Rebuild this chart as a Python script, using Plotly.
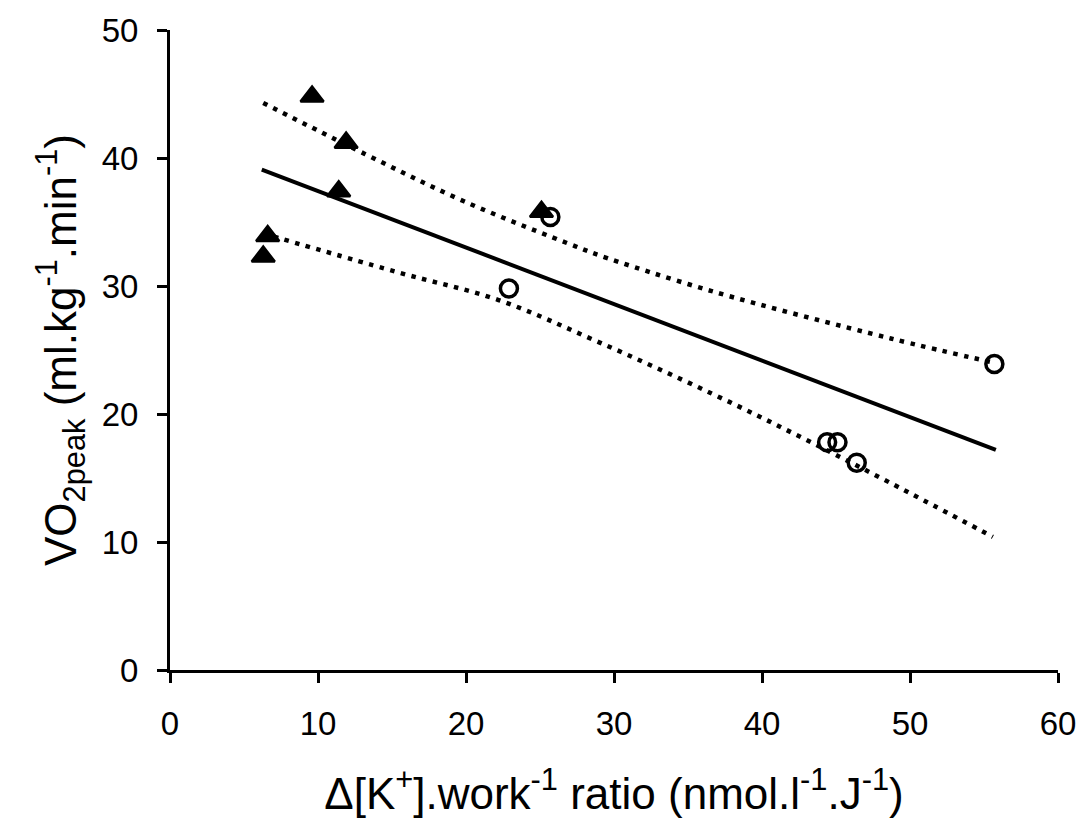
import plotly.graph_objects as go

# Group A (filled triangles)
tri_x = [9.6, 11.9, 11.4, 6.6, 6.3, 25.1]
tri_y = [44.8, 41.2, 37.4, 33.9, 32.3, 35.8]

# Group B (open circles)
circ_x = [25.7, 22.9, 44.4, 45.1, 46.4, 55.7]
circ_y = [35.4, 29.8, 17.8, 17.8, 16.2, 23.9]

# Regression line (end points)
reg_x = [6.2, 55.8]
reg_y = [39.1, 17.2]

# Confidence band (dotted)
upper_x = [6.3, 13.2, 19.9, 27.4, 29.0, 36.6, 48.7, 55.7]
upper_y = [44.3, 40.3, 36.6, 33.1, 32.4, 29.6, 25.9, 24.0]
lower_x = [6.3, 15.3, 22.2, 29.0, 36.6, 42.7, 48.7, 55.6]
lower_y = [34.1, 31.1, 28.9, 25.6, 21.6, 18.15, 14.6, 10.4]

x_ticks = [0, 10, 20, 30, 40, 50, 60]
y_ticks = [0, 10, 20, 30, 40, 50]

FONT = "Liberation Sans, Arial, sans-serif"
dot_style = "4.5px,6.5px"

fig = go.Figure()
fig.add_trace(go.Scatter(x=upper_x, y=upper_y, mode="lines", line_shape="spline",
                         line=dict(color="black", width=4.5, dash=dot_style), hoverinfo="skip"))
fig.add_trace(go.Scatter(x=lower_x, y=lower_y, mode="lines", line_shape="spline",
                         line=dict(color="black", width=4.5, dash=dot_style), hoverinfo="skip"))
fig.add_trace(go.Scatter(x=reg_x, y=reg_y, mode="lines",
                         line=dict(color="black", width=4)))
fig.add_trace(go.Scatter(x=tri_x, y=tri_y, mode="markers",
                         marker=dict(symbol="triangle-up", size=20, color="black",
                                     line=dict(color="black", width=2.5))))
fig.add_trace(go.Scatter(x=circ_x, y=circ_y, mode="markers",
                         marker=dict(symbol="circle-open", size=17, color="black",
                                     line=dict(color="black", width=3.5))))

axis_common = dict(
    showgrid=False, zeroline=False, showline=True, linecolor="black", linewidth=3,
    ticks="outside", ticklen=10, tickwidth=3, tickcolor="black",
    tickfont=dict(family=FONT, size=33, color="black"),
)

fig.update_layout(
    width=1088, height=822,
    margin=dict(l=170, r=25, t=26, b=151),
    paper_bgcolor="white", plot_bgcolor="white",
    showlegend=False,
    font=dict(family=FONT, color="black"),
    xaxis=dict(range=[0, 60], tickvals=x_ticks, ticklabelstandoff=12,
               title=dict(text="Δ[K<sup>+</sup>].work<sup>-1</sup> ratio (nmol.l<sup>-1</sup>.J<sup>-1</sup>)",
                          font=dict(family=FONT, size=44, color="black"), standoff=38),
               **axis_common),
    yaxis=dict(range=[0, 50], tickvals=y_ticks, ticklabelstandoff=12,
               title=dict(text="VO<sub>2peak</sub> (ml.kg<sup>-1</sup>.min<sup>-1</sup>)",
                          font=dict(family=FONT, size=44, color="black"), standoff=12),
               **axis_common),
)

fig.write_html("out.html")
